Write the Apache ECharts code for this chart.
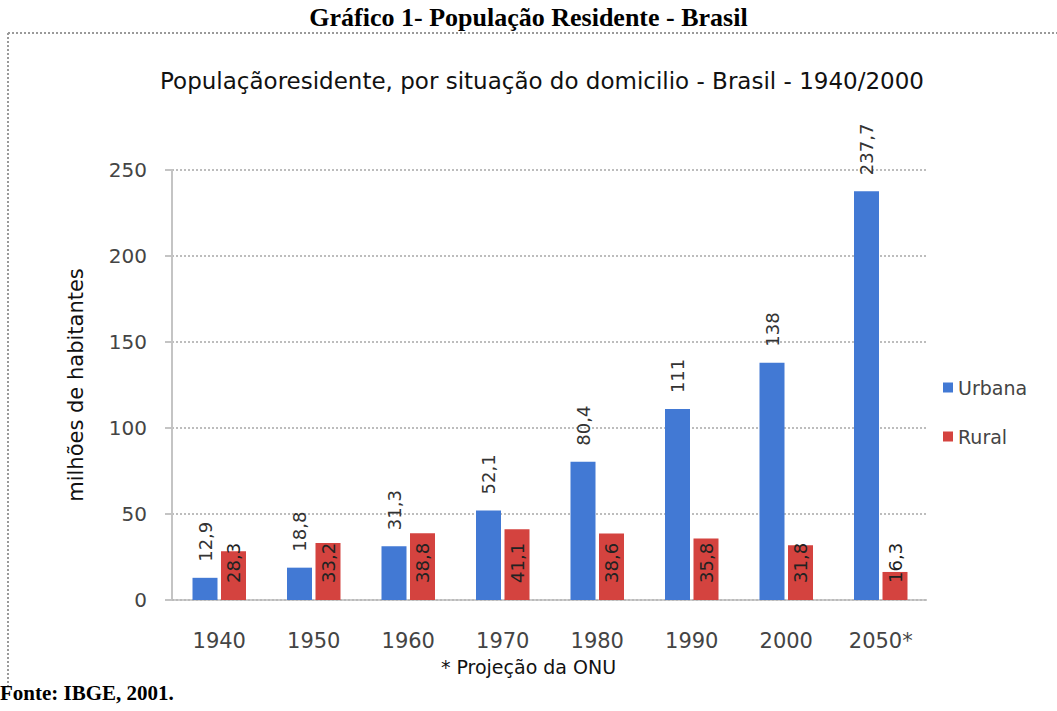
<!DOCTYPE html>
<html>
<head>
<meta charset="utf-8">
<script src="https://cdn.jsdelivr.net/npm/echarts@6/dist/echarts.min.js"></script>
<style>
  html, body { margin: 0; padding: 0; background: #fff; }
  #chart { width: 1057px; height: 711px; }
</style>
</head>
<body>
<div id="chart"></div>
<script>
// dados (milhões de habitantes)
const anos = ["1940", "1950", "1960", "1970", "1980", "1990", "2000", "2050*"];
const urbana = [12.9, 18.8, 31.3, 52.1, 80.4, 111, 138, 237.7];
const rural = [28.3, 33.2, 38.8, 41.1, 38.6, 35.8, 31.8, 16.3];
const yTicks = [0, 50, 100, 150, 200, 250];

const chart = echarts.init(document.getElementById("chart"), null, { renderer: "svg" });

// vírgula decimal
const fmt = (p) => String(p.value).replace(".", ",");

const labelBase = {
  show: true,
  rotate: 90,
  align: "left",
  verticalAlign: "middle",
  fontFamily: "DejaVu Sans",
  fontSize: 18,
  color: "#333",
  formatter: fmt,
};

const option = {
  backgroundColor: "#fff",
  animation: false,
  title: [
    {
      text: "Gráfico 1- População Residente - Brasil",
      left: "center",
      top: -1,
      textStyle: { fontFamily: "Liberation Serif", fontWeight: "bold", fontSize: 26, color: "#000" },
    },
    {
      text: "Populaçãoresidente, por situação do domicilio - Brasil - 1940/2000",
      left: 537,
      top: 64,
      textAlign: "center",
      textStyle: { fontFamily: "DejaVu Sans", fontWeight: "normal", fontSize: 23, color: "#111" },
    },
  ],
  legend: {
    orient: "vertical",
    left: 938,
    top: 373,
    itemWidth: 10,
    itemHeight: 10,
    itemGap: 30,
    icon: "rect",
    textStyle: { fontFamily: "DejaVu Sans", fontSize: 19, color: "#444" },
    data: ["Urbana", "Rural"],
  },
  grid: { left: 172, right: 129, top: 170, bottom: 111 },
  xAxis: {
    type: "category",
    data: anos,
    axisLine: { lineStyle: { color: "#bbb", type: "dotted", width: 2 } },
    axisTick: { show: false },
    axisLabel: { margin: 30, fontFamily: "DejaVu Sans", fontSize: 21, color: "#444" },
  },
  yAxis: {
    type: "value",
    min: 0,
    max: 250,
    interval: 50,
    name: "milhões de habitantes",
    nameLocation: "middle",
    nameGap: 86,
    nameRotate: 90,
    nameTextStyle: { fontFamily: "DejaVu Sans", fontSize: 21, color: "#111" },
    axisLine: { show: true, lineStyle: { color: "#c4c4c4", width: 2 } },
    axisTick: { show: true, length: 7, lineStyle: { color: "#c4c4c4", width: 2 } },
    axisLabel: {
      margin: 25,
      fontFamily: "DejaVu Sans",
      fontSize: 20,
      color: "#444",
      formatter: (v) => (yTicks.includes(v) ? String(v) : ""),
    },
    splitLine: { lineStyle: { color: "#bdbdbd", type: "dotted", width: 2 } },
  },
  series: [
    {
      name: "Urbana",
      type: "bar",
      data: urbana,
      barWidth: 25,
      barGap: "14%",
      itemStyle: { color: "#4279d4" },
      label: Object.assign({}, labelBase, { position: "top", distance: 16 }),
    },
    {
      name: "Rural",
      type: "bar",
      data: rural,
      barWidth: 25,
      barGap: "14%",
      itemStyle: { color: "#d4433f" },
      label: Object.assign({}, labelBase, { position: "insideBottom", distance: 17, color: "#222" }),
    },
  ],
  graphic: [
    // moldura pontilhada
    {
      type: "line",
      shape: { x1: 8, y1: 33, x2: 1057, y2: 33 },
      style: { stroke: "#9a9a9a", lineWidth: 2, lineDash: [2, 2] },
    },
    {
      type: "line",
      shape: { x1: 8, y1: 33, x2: 8, y2: 688 },
      style: { stroke: "#9a9a9a", lineWidth: 2, lineDash: [2, 2] },
    },
    {
      type: "text",
      left: "center",
      top: 657,
      style: { text: "* Projeção da ONU", fontFamily: "DejaVu Sans", fontSize: 19, fill: "#111" },
    },
    {
      type: "text",
      left: 0,
      top: 682,
      style: { text: "Fonte: IBGE, 2001.", fontFamily: "Liberation Serif", fontWeight: "bold", fontSize: 21, fill: "#000" },
    },
  ],
};

chart.setOption(option);
</script>
</body>
</html>
